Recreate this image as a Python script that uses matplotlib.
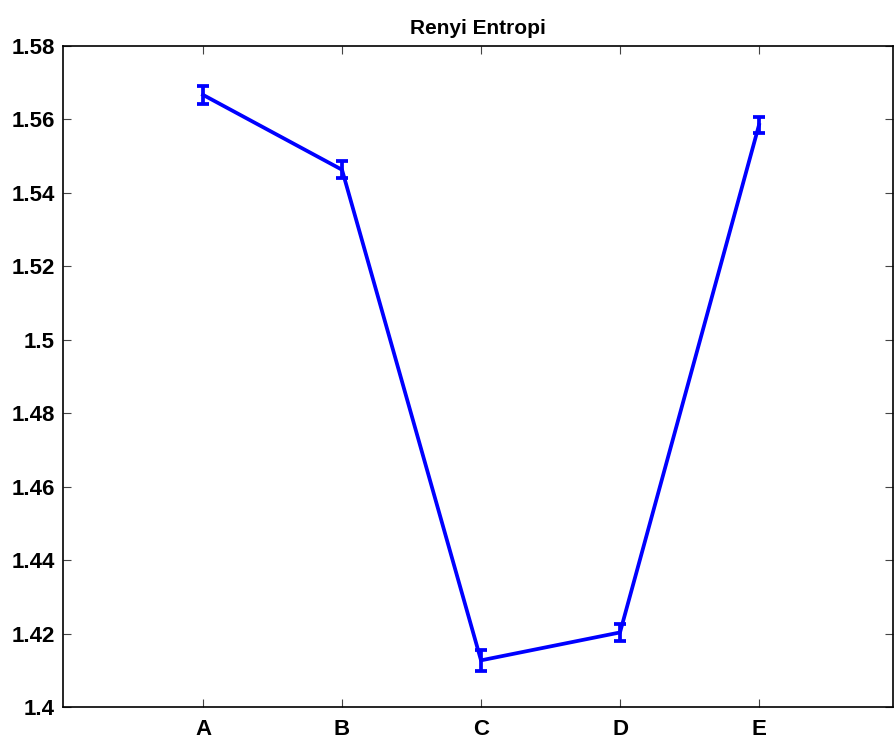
import matplotlib
matplotlib.use("Agg")
import matplotlib.pyplot as plt

groups = ["A", "B", "C", "D", "E"]
entropy = [1.5667, 1.5463, 1.4127, 1.4203, 1.5585]
err = [0.0025, 0.0023, 0.0028, 0.0022, 0.0021]

plt.rcParams["font.family"] = ["Liberation Sans", "DejaVu Sans"]
plt.rcParams["font.weight"] = "bold"

fig = plt.figure(figsize=(8.94, 7.42), dpi=100)
ax = fig.add_axes([0.0705, 0.0472, 0.9284, 0.8908])

x = list(range(1, len(groups) + 1))
ax.errorbar(x, entropy, yerr=err, color="#0000ff", linewidth=2.7,
            elinewidth=2.7, capsize=4.5, capthick=2.7)

ax.set_xlim(-0.007, 5.964)
ax.set_ylim(1.4, 1.58)
ax.set_xticks(x)
ax.set_xticklabels(groups)
ax.set_yticks([1.4, 1.42, 1.44, 1.46, 1.48, 1.5, 1.52, 1.54, 1.56, 1.58])
ax.set_yticklabels(["1.4", "1.42", "1.44", "1.46", "1.48", "1.5",
                    "1.52", "1.54", "1.56", "1.58"])
ax.tick_params(direction="in", length=6, width=0.8, labelsize=16,
               top=True, right=True, color="#444444")
ax.tick_params(axis="x", pad=9)
ax.tick_params(axis="y", pad=6)
for s in ax.spines.values():
    s.set_linewidth(1.2)

ax.set_title("Renyi Entropi", fontsize=15, fontweight="bold", pad=9)

fig.savefig("out.png", dpi=100)
